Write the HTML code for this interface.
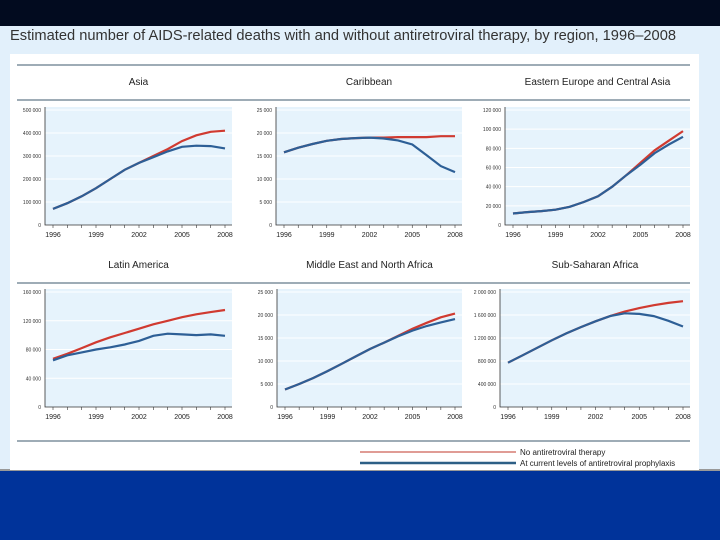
<!DOCTYPE html>
<html><head><meta charset="utf-8"><style>
body{margin:0;width:720px;height:540px;overflow:hidden;font-family:"Liberation Sans",sans-serif;}
</style></head><body>
<svg id="s" width="720" height="540" xmlns="http://www.w3.org/2000/svg">
<rect x="0" y="0" width="720" height="26" fill="#020b1f"/>
<rect x="0" y="26" width="720" height="444" fill="#e2f0fb"/>
<rect x="0" y="469" width="720" height="2" fill="#999"/>
<rect x="0" y="471" width="720" height="69" fill="#00339a"/>
<text x="10" y="40" font-size="15" fill="#333" textLength="666" lengthAdjust="spacingAndGlyphs">Estimated number of AIDS-related deaths with and without antiretroviral therapy, by region, 1996–2008</text>
<rect x="10" y="54" width="689" height="416" fill="#fff"/>
<line x1="17" y1="65" x2="690" y2="65" stroke="#3d5a6e" stroke-width="1"/>
<line x1="17" y1="100" x2="690" y2="100" stroke="#3d5a6e" stroke-width="1"/>
<line x1="17" y1="283" x2="690" y2="283" stroke="#3d5a6e" stroke-width="1"/>
<line x1="17" y1="441" x2="690" y2="441" stroke="#3d5a6e" stroke-width="1"/>
<g>
<line x1="360" y1="452" x2="516" y2="452" stroke="#c0392b" stroke-width="1"/>
<text x="520" y="455" font-size="8" fill="#222">No antiretroviral therapy</text>
<line x1="360" y1="463" x2="516" y2="463" stroke="#2d5f86" stroke-width="2.5"/>
<text x="520" y="466" font-size="8" fill="#222">At current levels of antiretroviral prophylaxis</text>
</g>
<g id="charts"></g>
</svg>
<script>
const years=[1996,1997,1998,1999,2000,2001,2002,2003,2004,2005,2006,2007,2008];
const tickYears=[1996,1999,2002,2005,2008];
const titles=["Asia","Caribbean","Eastern Europe and Central Asia","Latin America","Middle East and North Africa","Sub-Saharan Africa"];
const yMaxes=[500000,25000,120000,160000,25000,2000000];
const ySteps=[100000,5000,20000,40000,5000,400000];
const asiaNoArt=[70000,95000,125000,160000,200000,240000,270000,300000,330000,365000,390000,405000,410000];
const asiaArt=[70000,95000,125000,160000,200000,240000,270000,295000,320000,340000,345000,343000,333000];
const caribNoArt=[15800,16800,17600,18300,18700,18900,19000,19000,19100,19100,19100,19300,19300];
const caribArt=[15800,16800,17600,18300,18700,18900,19000,18800,18400,17500,15200,12800,11500];
const eecaNoArt=[12000,13500,14500,16000,19000,24000,30000,40000,52000,65000,78000,88000,98000];
const eecaArt=[12000,13500,14500,16000,19000,24000,30000,40000,52000,63000,75000,84000,92000];
const latamNoArt=[67000,74000,82000,90000,97000,103000,109000,115000,120000,125000,129000,132000,135000];
const latamArt=[65000,72000,76000,80000,83000,87000,92000,99000,102000,101000,100000,101000,99000];
const menaNoArt=[3800,5000,6300,7800,9400,11000,12600,14000,15500,17000,18300,19500,20300];
const menaArt=[3800,5000,6300,7800,9400,11000,12600,14000,15400,16600,17600,18400,19100];
const ssaNoArt=[770000,900000,1030000,1160000,1280000,1390000,1490000,1580000,1660000,1720000,1770000,1810000,1840000];
const ssaArt=[770000,900000,1030000,1160000,1280000,1390000,1490000,1580000,1630000,1620000,1580000,1500000,1400000];
const noArtSeries=[asiaNoArt,caribNoArt,eecaNoArt,latamNoArt,menaNoArt,ssaNoArt];
const artSeries=[asiaArt,caribArt,eecaArt,latamArt,menaArt,ssaArt];

const NS="http://www.w3.org/2000/svg";
const root=document.getElementById('charts');
function mk(tag,attrs,parent){const e=document.createElementNS(NS,tag);for(const k in attrs)e.setAttribute(k,attrs[k]);(parent||root).appendChild(e);return e;}
function fmt(v){return String(v).replace(/\B(?=(\d{3})+(?!\d))/g,' ');}
const lefts=[[45,276,505],[45,277,500]];
const rights=[232,462,690];
const tops=[110,292],bottoms=[225,407],titleY=[85,268];
for(let i=0;i<6;i++){
  const r=Math.floor(i/3),c=i%3;
  const L=lefts[r][c],R=rights[c],T=tops[r],B=bottoms[r];
  const xS=y=>L+8+(y-1996)/(2008-1996)*(R-7-L-8);
  const yS=v=>B-v/yMaxes[i]*(B-T);
  const g=mk('g',{});
  
  
  const t=mk('text',{x:(L+R)/2,y:titleY[r],'font-size':10,fill:'#222','text-anchor':'middle'},g);t.textContent=titles[i];
  
  
  const bg=mk('rect',{x:L,y:T-3,width:R-L,height:B-T+3,fill:'#e6f3fc'},g);
  
  
  for(let v=0;v<=yMaxes[i];v+=ySteps[i]){
    const y=yS(v);
    if(v>0){const gl=mk('line',{x1:L,x2:R,y1:y,y2:y,stroke:'#fff','stroke-width':1},g);
      
      }
    const tl=mk('text',{x:L-4,y:y+2,'font-size':5,fill:'#333','text-anchor':'end'},g);tl.textContent=fmt(v);
    
    
  }
  const ax=mk('path',{d:`M${L} ${T-3}V${B}H${R}`,stroke:'#333',fill:'none','stroke-width':0.8},g);
  
  
  years.forEach(y=>{mk('line',{x1:xS(y),x2:xS(y),y1:B,y2:B+3,stroke:'#333','stroke-width':0.6},g);});
  tickYears.forEach(y=>{const tx=mk('text',{x:xS(y),y:B+12,'font-size':7,fill:'#222','text-anchor':'middle'},g);tx.textContent=y;
    
    });
  const pts=s=>s.map((v,j)=>(j?'L':'M')+xS(years[j]).toFixed(1)+' '+yS(v).toFixed(1)).join('');
  const red=mk('path',{d:pts(noArtSeries[i]),stroke:'#d03a30',fill:'none','stroke-width':2.2},g);
  
  
  const blue=mk('path',{d:pts(artSeries[i]),stroke:'#2d5f96',fill:'none','stroke-width':2.2},g);
  
  
}
</script>
</body></html>
